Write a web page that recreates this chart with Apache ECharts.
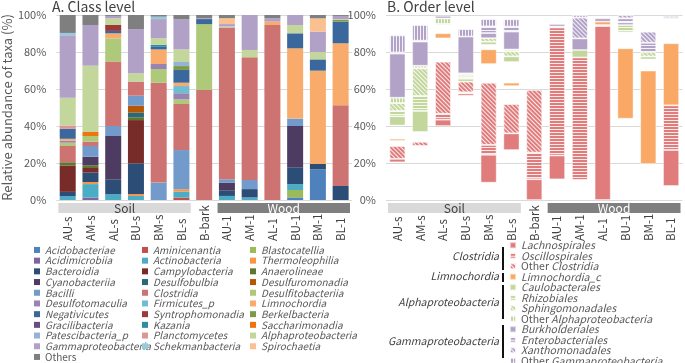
<!DOCTYPE html>
<html>
<head>
<meta charset="utf-8">
<script src="https://cdn.jsdelivr.net/npm/echarts@6/dist/echarts.min.js"></script>
<style>
  html, body { margin: 0; padding: 0; background: #fff; }
  #main { width: 685px; height: 363px; }
</style>
</head>
<body>
<div id="main"></div>
<script>
var samples = ['AU-s', 'AM-s', 'AL-s', 'BU-s', 'BM-s', 'BL-s', 'B-bark', 'AU-1', 'AM-1', 'AL-1', 'BU-1', 'BM-1', 'BL-1'];

// ---- A. class level (%), bottom -> top ----
var acidobacteriae      = [0, 0, 0, 0, 0, 0, 0, 0, 0, 0, 1.4, 16.6, 0];
var aminicenantia       = [0, 0, 0, 0, 0, 1.3, 0, 0, 0, 0, 0, 0, 0];
var blastocatellia      = [0, 0, 0, 0, 0, 0, 0, 0, 0, 0, 4.0, 0, 0];
var acidimicrobiia      = [0, 1.3, 0, 0, 0, 0, 0, 0, 0, 0, 0, 0, 0];
var actinobacteria      = [2.0, 7.3, 3.1, 2.2, 0, 3.2, 0, 2.2, 1.4, 0, 3.2, 0, 0];
var thermoleophilia     = [0, 1.1, 0, 1.0, 0, 1.3, 0, 0, 0, 0, 0, 0, 0];
var bacteroidia         = [2.4, 5.1, 8.1, 16.6, 0, 0, 0, 2.8, 4.5, 0, 9.1, 2.9, 7.6];
var campylobacteria     = [14.2, 2.5, 0, 23.4, 0, 0, 0, 0, 0, 0, 0, 0, 0];
var anaerolineae        = [1.8, 1.4, 0, 1.5, 0, 0, 0, 0, 0, 0, 0, 0, 0];
var cyanobacteriia      = [0, 4.7, 23.4, 0, 0, 0, 0, 4.4, 0, 0, 22.3, 0, 0];
var desulfobulbia       = [0, 0, 0, 2.5, 0, 0, 0, 0, 0, 0, 0, 0, 0];
var desulfuromonadia    = [0, 0, 0, 3.8, 0, 0, 0, 0, 0, 0, 0, 0, 0];
var bacilli             = [0, 5.8, 5.4, 5.4, 9.4, 21.2, 0, 1.8, 4.9, 0, 4.0, 0, 0];
var clostridia          = [8.8, 2.3, 34.8, 7.6, 54.0, 24.9, 59.5, 82.1, 66.3, 94.6, 0, 0, 43.6];
var desulfitobacteriia  = [1.8, 3.1, 12.6, 0, 7.4, 2.5, 35.6, 0, 0, 0, 0, 0, 0];
var desulfotomaculia    = [1.0, 0, 0, 0, 2.7, 3.3, 0, 0, 0, 0, 0, 0, 0];
var firmicutesP         = [0, 0, 0, 0, 0, 3.9, 0, 0, 0, 0, 0, 0, 0];
var limnochordia        = [1.1, 0, 2.7, 0, 7.9, 1.8, 0, 0, 0, 1.8, 38.0, 50.4, 33.5];
var negativicutes       = [5.4, 0, 1.3, 0, 1.4, 6.9, 2.7, 0, 0, 0, 8.1, 6.1, 11.7];
var syntrophomonadia    = [0, 0, 3.2, 0, 0, 0, 0, 0, 0, 0, 0, 0, 0];
var berkelbacteria      = [0, 0, 0, 0, 0, 2.1, 0, 0, 0, 0, 0, 0, 0.9];
var gracilibacteria     = [0, 0, 0, 0, 0, 0, 0, 0, 0, 0, 0, 0, 0];
var kazania             = [0, 0, 0, 0, 1.1, 0, 0, 0, 0, 0, 0, 0, 0];
var saccharimonadia     = [0, 2.2, 0, 0, 0, 0, 0, 0, 0, 0, 0, 0, 0];
var patescibacteriaP    = [0, 0, 0, 0, 0, 2.2, 0, 0, 0, 0, 0, 0, 0];
var planctomycetes      = [1.8, 0, 0, 0, 0, 0, 0, 0, 0, 0, 0, 0, 0];
var alphaproteobacteria = [15.0, 35.8, 3.6, 4.5, 3.6, 6.8, 0, 0.5, 4.0, 0, 4.5, 4.0, 0.4];
var gammaproteobacteria = [33.7, 22.0, 1.3, 23.9, 10.3, 16.3, 0.4, 1.3, 18.9, 1.8, 5.4, 11.0, 1.8];
var schekmanbacteria    = [1.3, 0, 0, 0, 1.3, 0, 0, 0, 0, 0, 0, 0, 0];
var spirochaetia        = [0, 0, 0, 0, 0, 0, 0, 3.2, 0, 0, 0, 7.2, 0];
var others              = [9.7, 5.4, 0.5, 7.6, 0.9, 2.3, 1.8, 1.7, 0, 1.8, 0, 1.8, 0.5];

// ---- B. order level (%) ----
var lachnospirales    = [1.8, 0, 3.4, 1.2, 15.0, 9.0, 11.2, 12.8, 0, 94.0, 0, 0, 19.4];
var oscillospirales   = [0, 0, 3.2, 0.6, 5.4, 0, 14.4, 69.3, 66.3, 0.6, 0, 0, 24.2];
var otherClostridia   = [7.0, 2.3, 28.2, 5.8, 33.6, 15.9, 33.9, 0, 0, 0, 0, 0, 0];
var limnochordiaC     = [1.1, 0, 2.7, 0, 7.9, 1.8, 0, 0, 0, 1.8, 38.0, 50.4, 33.5];
var caulobacterales   = [4.9, 11.3, 0.6, 1.5, 1.6, 3.0, 0, 0.5, 4.0, 0, 0.5, 1.5, 0.4];
var rhizobiales       = [2.9, 8.1, 0, 0.9, 0, 0, 0, 0, 0, 0, 4.0, 0, 0];
var sphingomonadales  = [4.3, 15.0, 0, 1.2, 2.0, 2.8, 0, 0, 0, 0, 0, 2.5, 0];
var otherAlpha        = [2.9, 1.4, 3.0, 0.9, 0, 1.0, 0, 0, 0, 0, 0, 0, 0];
var burkholderiales   = [23.8, 13.0, 1.3, 19.8, 2.7, 9.6, 0.4, 1.3, 6.2, 1.8, 1.4, 0, 0.6];
var enterobacteriales = [0.6, 0.5, 0, 0, 3.6, 2.7, 0, 0, 0, 0, 2.2, 5.0, 0];
var xanthomonadales   = [0, 0, 0, 0, 0, 0, 0, 0, 11.3, 0, 1.8, 6.0, 1.2];
var otherGamma        = [9.3, 8.5, 0, 4.1, 4.0, 4.0, 0, 0, 1.4, 0, 0, 0, 0];

var FONT = '"Noto Sans CJK JP", "Noto Sans", sans-serif';

// class list in stacking order (Excel legend reads row by row)
var classes = [
  ['Acidobacteriae', acidobacteriae, '#4F81BD'],
  ['Aminicenantia', aminicenantia, '#C0504D'],
  ['Blastocatellia', blastocatellia, '#9BBB59'],
  ['Acidimicrobiia', acidimicrobiia, '#8064A2'],
  ['Actinobacteria', actinobacteria, '#4BACC6'],
  ['Thermoleophilia', thermoleophilia, '#F79646'],
  ['Bacteroidia', bacteroidia, '#2C4D75'],
  ['Campylobacteria', campylobacteria, '#772C2A'],
  ['Anaerolineae', anaerolineae, '#5F7530'],
  ['Cyanobacteriia', cyanobacteriia, '#4D3B62'],
  ['Desulfobulbia', desulfobulbia, '#276A7C'],
  ['Desulfuromonadia', desulfuromonadia, '#B65708'],
  ['Bacilli', bacilli, '#729ACA'],
  ['Clostridia', clostridia, '#CD7371'],
  ['Desulfitobacteriia', desulfitobacteriia, '#AFC97A'],
  ['Desulfotomaculia', desulfotomaculia, '#9983B5'],
  ['Firmicutes_p', firmicutesP, '#6FBDD1'],
  ['Limnochordia', limnochordia, '#F9AB6B'],
  ['Negativicutes', negativicutes, '#3A679C'],
  ['Syntrophomonadia', syntrophomonadia, '#9B3A38'],
  ['Berkelbacteria', berkelbacteria, '#7D9A48'],
  ['Gracilibacteria', gracilibacteria, '#664E82'],
  ['Kazania', kazania, '#2E8CA5'],
  ['Saccharimonadia', saccharimonadia, '#EE7410'],
  ['Patescibacteria_p', patescibacteriaP, '#95B3D7'],
  ['Planctomycetes', planctomycetes, '#D99795'],
  ['Alphaproteobacteria', alphaproteobacteria, '#C3D69B'],
  ['Gammaproteobacteria', gammaproteobacteria, '#B2A1C7'],
  ['Schekmanbacteria', schekmanbacteria, '#93CDDD'],
  ['Spirochaetia', spirochaetia, '#FAC08F'],
  ['Others', others, '#7F7F7F']
];

function nz(arr) {
  return arr.map(function (v) { return v ? v : '-'; });
}
// sum of class values between two stack positions -> floating offsets for panel B
function sumClasses(from, to) {
  return samples.map(function (s, i) {
    var t = 0;
    for (var k = from; k <= to; k++) t += classes[k][1][i];
    return Math.round(t * 100) / 100;
  });
}

var hLines = { symbol: 'rect', symbolSize: 1, dashArrayX: [1, 0], dashArrayY: [1, 2], color: 'rgba(255,255,255,0.85)' };
var dLines = { symbol: 'rect', symbolSize: 1, dashArrayX: [1, 0], dashArrayY: [1, 2], rotation: Math.PI / 4, color: 'rgba(255,255,255,0.85)' };
var vLines = { symbol: 'rect', symbolSize: 1, dashArrayX: [1, 2], dashArrayY: [1, 0], color: 'rgba(255,255,255,0.85)' };

var clos = '#E07C7C', limno = '#F9A865', alpha = '#C3D69B', gamma = '#B3A2C7';

var orders = [
  ['_gap1', sumClasses(0, 12), 'transparent', null],
  ['Lachnospirales', lachnospirales, clos, null],
  ['Oscillospirales', oscillospirales, clos, hLines],
  ['Other Clostridia', otherClostridia, clos, dLines],
  ['_gap2', sumClasses(14, 16), 'transparent', null],
  ['Limnochordia_c', limnochordiaC, limno, null],
  ['_gap3', sumClasses(18, 25), 'transparent', null],
  ['Caulobacterales', caulobacterales, alpha, null],
  ['Rhizobiales', rhizobiales, alpha, hLines],
  ['Sphingomonadales', sphingomonadales, alpha, dLines],
  ['Other Alphaproteobacteria', otherAlpha, alpha, vLines],
  ['Burkholderiales', burkholderiales, gamma, null],
  ['Enterobacteriales', enterobacteriales, gamma, hLines],
  ['Xanthomonadales', xanthomonadales, gamma, dLines],
  ['Other Gammaproteobacteria', otherGamma, gamma, vLines]
];

var series = [];
classes.forEach(function (c) {
  series.push({
    name: c[0], type: 'bar', stack: 'a', xAxisIndex: 0, yAxisIndex: 0,
    barWidth: 16, data: nz(c[1]),
    itemStyle: { color: c[2] },
    emphasis: { disabled: true }
  });
});
orders.forEach(function (o) {
  var gap = o[2] === 'transparent';
  var style = {
    color: o[2],
    borderColor: gap ? 'transparent' : 'rgba(255,255,255,0.55)',
    borderWidth: gap ? 0 : 0.8
  };
  if (o[3]) style.decal = o[3];
  series.push({
    name: o[0], type: 'bar', stack: 'b', xAxisIndex: 1, yAxisIndex: 1,
    barWidth: 16, data: nz(o[1]), silent: gap,
    itemStyle: style,
    emphasis: { disabled: true }
  });
});

var legends = [];
var colA = [
  ['Acidobacteriae', 'Acidimicrobiia', 'Bacteroidia', 'Cyanobacteriia', 'Bacilli', 'Desulfotomaculia', 'Negativicutes', 'Gracilibacteria', 'Patescibacteria_p', 'Gammaproteobacteria', 'Others'],
  ['Aminicenantia', 'Actinobacteria', 'Campylobacteria', 'Desulfobulbia', 'Clostridia', 'Firmicutes_p', 'Syntrophomonadia', 'Kazania', 'Planctomycetes', 'Schekmanbacteria'],
  ['Blastocatellia', 'Thermoleophilia', 'Anaerolineae', 'Desulfuromonadia', 'Desulfitobacteriia', 'Limnochordia', 'Berkelbacteria', 'Saccharimonadia', 'Alphaproteobacteria', 'Spirochaetia']
];
var colLeft = [34, 142, 250];
colA.forEach(function (names, k) {
  legends.push({
    orient: 'vertical', left: colLeft[k], top: 244.6, height: 125, padding: 0, itemGap: 0,
    itemWidth: 6, itemHeight: 6, icon: 'rect', selectedMode: false,
    textStyle: { fontStyle: 'italic', fontSize: 10, lineHeight: 10.7, color: '#595959', fontFamily: FONT },
    data: names.map(function (n) {
      return n === 'Others' ? { name: n, textStyle: { fontStyle: 'normal' } } : { name: n };
    })
  });
});
legends.push({
  orient: 'vertical', left: 509, top: 240, height: 130, padding: 0, itemGap: 0,
  itemWidth: 6, itemHeight: 6, icon: 'rect', selectedMode: false,
  textStyle: {
    fontStyle: 'italic', fontSize: 10.5, lineHeight: 10.15, color: '#595959', fontFamily: FONT,
    rich: {
      n: { fontStyle: 'normal', fontSize: 10.5, lineHeight: 10.15, color: '#595959', fontFamily: FONT },
      i: { fontStyle: 'italic', fontSize: 10.5, lineHeight: 10.15, color: '#595959', fontFamily: FONT }
    }
  },
  formatter: function (name) {
    if (name.indexOf('Other ') === 0) return '{n|Other }{i|' + name.slice(6) + '}';
    return '{i|' + name + '}';
  },
  data: orders.filter(function (o) { return o[0][0] !== '_'; }).map(function (o) { return o[0]; })
});

function yAxis(idx, withName) {
  return {
    type: 'value', gridIndex: idx, min: 0, max: 100, interval: 20,
    name: withName ? 'Relative abundance of taxa (%)' : '',
    nameLocation: 'middle', nameGap: 38,
    nameTextStyle: { fontSize: 13, color: '#595959', fontFamily: FONT },
    axisLine: { show: false }, axisTick: { show: false },
    axisLabel: { formatter: '{value}%', fontSize: 11, color: '#595959', margin: 10, fontFamily: FONT },
    splitLine: { lineStyle: { color: '#D9D9D9', width: 1 } }
  };
}
function xAxis(idx) {
  return {
    type: 'category', gridIndex: idx, data: samples,
    axisLine: { show: false }, axisTick: { show: false },
    axisLabel: { rotate: 90, align: 'left', margin: 41, interval: 0, fontSize: 11.5, color: '#404040', fontFamily: FONT }
  };
}

var myChart = echarts.init(document.getElementById('main'));
var option = {
  animation: false,
  textStyle: { fontFamily: FONT },
  title: [
    { text: 'A. Class level', left: 52, top: 0, padding: 0, textStyle: { fontSize: 14, fontWeight: 'normal', color: '#404040', fontFamily: FONT } },
    { text: 'B. Order level', left: 387, top: 0, padding: 0, textStyle: { fontSize: 14, fontWeight: 'normal', color: '#404040', fontFamily: FONT } }
  ],
  grid: [
    { left: 48, right: 333, top: 15, bottom: 163 },
    { left: 386, right: 2.5, top: 15, bottom: 163 }
  ],
  xAxis: [xAxis(0), xAxis(1)],
  yAxis: [yAxis(0, true), yAxis(1, false)],
  legend: legends,
  series: series
};
myChart.setOption(option);

// group boxes under the axes, placed from the category axes
function span(axisIndex, first, last) {
  var x0 = myChart.convertToPixel({ xAxisIndex: axisIndex }, samples[first]);
  var x1 = myChart.convertToPixel({ xAxisIndex: axisIndex }, samples[last]);
  var half = (x1 - x0) / (last - first) / 2 - 2;
  return [x0 - half, x1 + half];
}
var graphics = [];
[0, 1].forEach(function (ax) {
  [[0, 5, 'Soil', '#D9D9D9', '#404040'], [7, 12, 'Wood', '#7F7F7F', '#FFFFFF']].forEach(function (g) {
    var s = span(ax, g[0], g[1]);
    graphics.push({ type: 'rect', shape: { x: s[0], y: 203, width: s[1] - s[0], height: 10 }, style: { fill: g[3] }, silent: true });
    graphics.push({ type: 'text', x: (s[0] + s[1]) / 2, y: 208, silent: true,
      style: { text: g[2], fill: g[4], font: '12px ' + FONT, align: 'center', verticalAlign: 'middle' } });
  });
});
// class brackets of legend B
var brackets = [
  ['Clostridia', 256.5, 247, 270],
  ['Limnochordia', 276.5, 273, 282],
  ['Alphaproteobacteria', 302, 285, 319],
  ['Gammaproteobacteria', 341, 325, 358]
];
brackets.forEach(function (b) {
  graphics.push({ type: 'text', x: 499, y: b[1], silent: true,
    style: { text: b[0], fill: '#404040', font: 'italic 10.5px ' + FONT, align: 'right', verticalAlign: 'middle' } });
  graphics.push({ type: 'rect', shape: { x: 502, y: b[2], width: 2, height: b[3] - b[2] }, style: { fill: '#111' }, silent: true });
});
myChart.setOption({ graphic: graphics });
</script>
</body>
</html>
